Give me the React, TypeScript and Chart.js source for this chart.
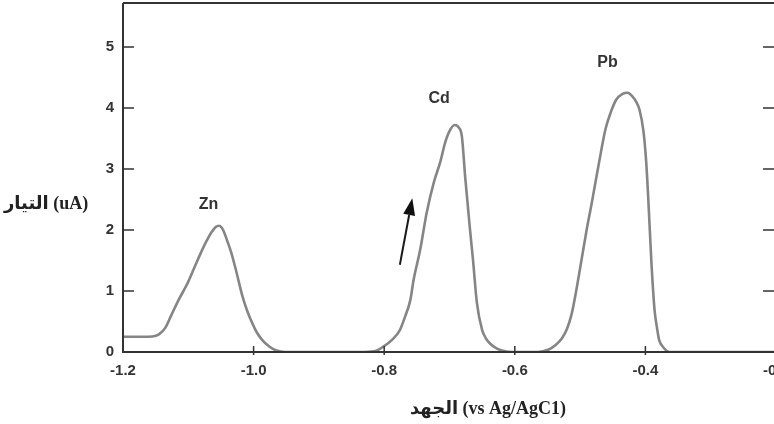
import React, { useEffect, useRef } from "react";
import { Chart, registerables } from "chart.js";

Chart.register(...registerables);

// Potential (V vs Ag/AgCl)
const voltage = [
  -1.2, -1.17, -1.155, -1.145, -1.135, -1.127, -1.115, -1.101, -1.09, -1.081,
  -1.072, -1.064, -1.058, -1.053, -1.049, -1.045, -1.041, -1.034, -1.027, -1.017,
  -1.01, -1.002, -0.995, -0.987, -0.976, -0.966, -0.951, -0.9, -0.83, -0.812,
  -0.801, -0.788, -0.776, -0.768, -0.76, -0.755, -0.745, -0.735, -0.724, -0.714,
  -0.707, -0.7, -0.692, -0.686, -0.681, -0.676, -0.669, -0.664, -0.658, -0.65,
  -0.644, -0.638, -0.628, -0.618, -0.603, -0.565, -0.548, -0.538, -0.528, -0.52,
  -0.513, -0.506, -0.498, -0.49, -0.482, -0.475, -0.468, -0.461, -0.453, -0.445,
  -0.435, -0.427, -0.42, -0.414, -0.409, -0.403, -0.399, -0.396, -0.391, -0.386,
  -0.382, -0.379, -0.372, -0.363, -0.2,
];

// Current (uA)
const current = [
  0.25, 0.25, 0.255, 0.29, 0.4, 0.58, 0.85, 1.13, 1.4, 1.62,
  1.82, 1.97, 2.05, 2.07, 2.04, 1.96, 1.84, 1.62, 1.34, 0.91,
  0.68, 0.47, 0.32, 0.2, 0.09, 0.03, 0.0, 0.0, 0.0, 0.02,
  0.09, 0.2, 0.36, 0.58, 0.85, 1.18, 1.67, 2.28, 2.78, 3.12,
  3.42, 3.62, 3.72, 3.68, 3.53, 2.87, 2.05, 1.51, 0.8, 0.36,
  0.22, 0.14, 0.06, 0.02, 0.0, 0.0, 0.04, 0.11, 0.22, 0.38,
  0.62, 1.0, 1.5, 2.0, 2.45, 2.87, 3.28, 3.66, 3.93, 4.13,
  4.23, 4.25, 4.19, 4.1, 3.97, 3.62, 3.15, 2.6, 1.51, 0.69,
  0.38, 0.2, 0.07, 0.0, 0.0,
];

const xTicks = [-1.2, -1.0, -0.8, -0.6, -0.4, -0.2];
const yTicks = [0, 1, 2, 3, 4, 5];

const peakNames = ["Zn", "Cd", "Pb"];
const peakNameX = [-1.069, -0.716, -0.458];
const peakNameY = [2.41, 4.15, 4.74];

const arrowTail = { x: -0.776, y: 1.43 };
const arrowTip = { x: -0.757, y: 2.52 };

const xTitle = "الجهد (vs Ag/AgC1)";
const yTitle = "التيار (uA)";

const CANVAS_W = 790;
const CANVAS_H = 424;
const PLOT_RIGHT = 776;
const PLOT_TOP = 3;
const PLOT_BOTTOM = 352;
const PLOT_LEFT = 123;

const zeroPad = (s: any) => {
  s.paddingTop = 0;
  s.paddingBottom = 0;
  s.paddingLeft = 0;
  s.paddingRight = 0;
};

const decor = {
  id: "decor",
  afterDraw(chart: any) {
    const { ctx, chartArea, scales } = chart;
    const xs = scales.x;
    const ys = scales.y;
    const { left, right, top, bottom } = chartArea;
    ctx.save();

    // frame
    ctx.strokeStyle = "#333";
    ctx.lineWidth = 2;
    ctx.beginPath();
    ctx.moveTo(left, top);
    ctx.lineTo(right, top);
    ctx.moveTo(left, top);
    ctx.lineTo(left, bottom);
    ctx.lineTo(right, bottom);
    ctx.lineTo(right, top);
    ctx.stroke();

    // inward ticks
    ctx.lineWidth = 1.5;
    ctx.beginPath();
    yTicks.forEach((v) => {
      if (v === 0) return;
      const py = ys.getPixelForValue(v);
      ctx.moveTo(left, py);
      ctx.lineTo(left + 11, py);
      ctx.moveTo(right, py);
      ctx.lineTo(right - 13, py);
    });
    xTicks.forEach((v, i) => {
      if (i === 0 || i === xTicks.length - 1) return;
      const px = xs.getPixelForValue(v);
      ctx.moveTo(px, bottom - 6);
      ctx.lineTo(px, bottom + 3);
    });
    ctx.stroke();

    // peak labels
    ctx.fillStyle = "#333";
    ctx.font = "bold 16px 'Liberation Sans', Arial, sans-serif";
    ctx.textAlign = "center";
    ctx.textBaseline = "middle";
    peakNames.forEach((n, i) => {
      ctx.fillText(n, xs.getPixelForValue(peakNameX[i]), ys.getPixelForValue(peakNameY[i]));
    });

    // arrow
    const tx = xs.getPixelForValue(arrowTail.x);
    const ty = ys.getPixelForValue(arrowTail.y);
    const hx = xs.getPixelForValue(arrowTip.x);
    const hy = ys.getPixelForValue(arrowTip.y);
    const ang = Math.atan2(hy - ty, hx - tx);
    const headLen = 17;
    const headW = 6;
    const bx = hx - headLen * Math.cos(ang);
    const by = hy - headLen * Math.sin(ang);
    ctx.strokeStyle = "#1a1a1a";
    ctx.fillStyle = "#111";
    ctx.lineWidth = 2;
    ctx.beginPath();
    ctx.moveTo(tx, ty);
    ctx.lineTo(bx, by);
    ctx.stroke();
    ctx.beginPath();
    ctx.moveTo(hx, hy);
    ctx.lineTo(bx + headW * Math.sin(ang), by - headW * Math.cos(ang));
    ctx.lineTo(bx - headW * Math.sin(ang), by + headW * Math.cos(ang));
    ctx.closePath();
    ctx.fill();

    // axis titles
    ctx.fillStyle = "#222";
    ctx.direction = "ltr";
    ctx.font = "bold 18px 'Liberation Serif', 'Times New Roman', 'DejaVu Sans', serif";
    ctx.textAlign = "left";
    ctx.textBaseline = "middle";
    ctx.fillText(yTitle, 4, 204);
    ctx.textAlign = "center";
    ctx.fillText(xTitle, 488, 409);

    ctx.restore();
  },
};

export default function App() {
  const ref = useRef<HTMLCanvasElement | null>(null);

  useEffect(() => {
    if (!ref.current) return;
    const pts = voltage.map((v, i) => ({ x: v, y: current[i] }));
    const tickFont = { family: "'Liberation Sans', Arial, sans-serif", size: 15, weight: "bold" as const };
    const chart = new Chart(ref.current, {
      type: "line",
      data: {
        datasets: [
          {
            data: pts,
            borderColor: "#858585",
            borderWidth: 2.6,
            pointRadius: 0,
            fill: false,
            cubicInterpolationMode: "monotone",
          },
          {
            data: pts,
            borderColor: "#3a3a3a",
            borderWidth: 1,
            borderDash: [3, 9],
            pointRadius: 0,
            fill: false,
            cubicInterpolationMode: "monotone",
          },
        ],
      },
      options: {
        animation: false,
        responsive: false,
        maintainAspectRatio: false,
        layout: {
          autoPadding: false,
          padding: { top: PLOT_TOP, right: CANVAS_W - PLOT_RIGHT, left: 0, bottom: 0 },
        },
        plugins: { legend: { display: false }, tooltip: { enabled: false } },
        scales: {
          x: {
            type: "linear",
            min: -1.2,
            max: -0.2,
            afterBuildTicks: (s: any) => {
              s.ticks = xTicks.map((v) => ({ value: v }));
            },
            afterFit: (s: any) => {
              s.height = CANVAS_H - PLOT_BOTTOM;
              zeroPad(s);
            },
            grid: { display: false, drawTicks: false },
            border: { display: false },
            ticks: {
              padding: 10,
              color: "#333",
              font: tickFont,
              autoSkip: false,
              maxRotation: 0,
              callback: (v: any) => Number(v).toFixed(1),
            },
          },
          y: {
            min: 0,
            max: 5.72,
            afterBuildTicks: (s: any) => {
              s.ticks = yTicks.map((v) => ({ value: v }));
            },
            afterFit: (s: any) => {
              s.width = PLOT_LEFT;
              zeroPad(s);
            },
            grid: { display: false, drawTicks: false },
            border: { display: false },
            ticks: {
              padding: 9,
              color: "#333",
              font: tickFont,
              callback: (v: any) => String(v),
            },
          },
        },
      },
      plugins: [decor],
    });
    return () => chart.destroy();
  }, []);

  return (
    <div
      style={{
        position: "fixed",
        left: 0,
        top: 0,
        width: 774,
        height: 424,
        overflow: "hidden",
        background: "#fff",
      }}
    >
      <canvas ref={ref} width={CANVAS_W} height={CANVAS_H} style={{ display: "block" }} />
    </div>
  );
}
